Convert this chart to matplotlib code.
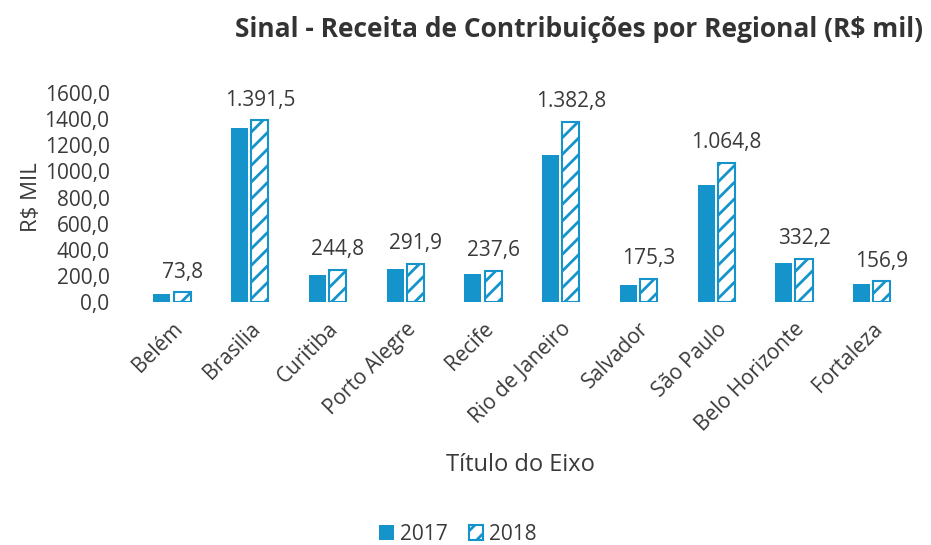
import matplotlib
matplotlib.use("Agg")
from matplotlib import pyplot as plt
from matplotlib.ticker import FuncFormatter
import numpy as np

# - Data

regionais = ["Belém", "Brasilia", "Curitiba", "Porto Alegre", "Recife",
             "Rio de Janeiro", "Salvador", "São Paulo", "Belo Horizonte", "Fortaleza"]
receita_2017 = [59.0, 1335.0, 205.0, 250.0, 215.0, 1130.0, 130.0, 900.0, 295.0, 135.0]
receita_2018 = [73.8, 1391.5, 244.8, 291.9, 237.6, 1382.8, 175.3, 1064.8, 332.2, 156.9]
rotulos_2018 = ["73,8", "1.391,5", "244,8", "291,9", "237,6",
                "1.382,8", "175,3", "1.064,8", "332,2", "156,9"]

azul = "#1593CB"
texto = "#3a3a3a"

plt.rcParams["font.family"] = ["Open Sans", "DejaVu Sans"]
plt.rcParams["hatch.color"] = azul
plt.rcParams["hatch.linewidth"] = 2.0

# - Figure

fig = plt.figure(figsize=(9.31, 5.45), dpi=100)
ax = fig.add_axes([0.143, 0.446, 0.835, 0.383])

x = np.arange(len(regionais))
largura = 0.22

ax.bar(x - largura / 2 - 0.02, receita_2017, largura, color=azul, label="2017")
ax.bar(x + largura / 2 + 0.02, receita_2018, largura, facecolor="white",
       edgecolor=azul, hatch="//", linewidth=1.5, label="2018")

# Value labels only on 2018 bars
for xi, val, txt in zip(x, receita_2018, rotulos_2018):
    ax.annotate(txt, (xi + largura / 2 + 0.02, val), xytext=(0, 7),
                textcoords="offset points", ha="center", va="bottom",
                fontsize=15, color=texto)

ax.set_ylim(0, 1600)
ax.set_xlim(-0.5, len(regionais) - 0.5)
ax.set_yticks(np.arange(0, 1601, 200))
ax.yaxis.set_major_formatter(FuncFormatter(lambda v, p: f"{v:.1f}".replace(".", ",")))
ax.set_xticks(x)
ax.set_xticklabels(regionais, rotation=45, ha="right", rotation_mode="anchor")
ax.tick_params(axis="both", length=0, labelsize=15, colors=texto)
ax.tick_params(axis="x", pad=12)
ax.tick_params(axis="y", pad=17)

for s in ax.spines.values():
    s.set_visible(False)

ax.set_ylabel("R$ MIL", fontsize=16, color=texto, labelpad=2)
fig.text(0.559, 0.147, "Título do Eixo", ha="center", va="center", fontsize=17, color=texto)
fig.text(0.622, 0.945, "Sinal - Receita de Contribuições por Regional (R$ mil)",
         ha="center", va="center", fontsize=19, fontweight="bold", color="#333333")

fig.legend(loc="center", bbox_to_anchor=(0.492, 0.02), ncol=2, frameon=False,
           fontsize=15, handlelength=0.7, handleheight=0.7, handletextpad=0.3,
           columnspacing=1.0, labelcolor=texto)

fig.savefig("out.png", dpi=100)
